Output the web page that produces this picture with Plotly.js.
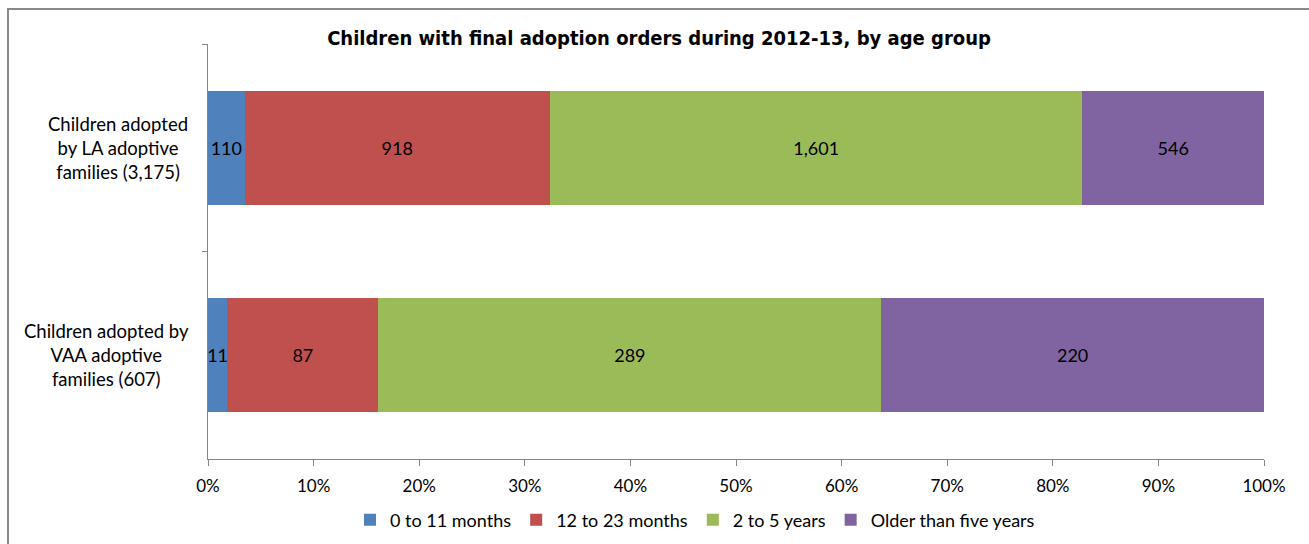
<!DOCTYPE html>
<html>
<head>
<meta charset="utf-8">
<script src="https://cdn.plot.ly/plotly-3.0.1.min.js"></script>
<style>html,body{margin:0;padding:0;background:#fff;}#chart{width:1309px;height:544px;}</style>
</head>
<body>
<div id="chart"></div>
<script>
const categories = ["LA", "VAA"];
const categoryLabels = ["Children adopted<br>by LA adoptive<br>families (3,175)", "Children adopted by<br>VAA adoptive<br>families (607)"];
const seriesNames = ["0 to 11 months", "12 to 23 months", "2 to 5 years", "Older than five years"];
const months0to11 = [110, 11];
const months12to23 = [918, 87];
const years2to5 = [1601, 289];
const olderThanFive = [546, 220];
const colors = ["#4F81BD", "#C0504D", "#9BBB59", "#8064A2"];
const chartTitle = "Children with final adoption orders during 2012-13, by age group";

const seriesValues = [months0to11, months12to23, years2to5, olderThanFive];
const fmt = v => v.toLocaleString("en-GB");
const FONT = "Lato, 'Liberation Sans', sans-serif";

const W = 1309, H = 544;
const mL = 208, mR = 45, mT = 44, mB = 85;
const pw = W - mL - mR, ph = H - mT - mB;
const px = x => (x - mL) / pw;
const py = y => (H - mB - y) / ph;

const traces = seriesValues.map((vals, i) => ({
  type: "bar",
  orientation: "h",
  name: seriesNames[i],
  y: categories,
  x: vals,
  text: vals.map(fmt),
  textposition: "inside",
  insidetextanchor: "middle",
  textangle: 0,
  constraintext: "none",
  textfont: {family: FONT, size: 18, color: "#000"},
  marker: {color: colors[i], line: {width: 0}},
  hoverinfo: "skip"
}));

const labelX = [118, 106];
const annotations = categories.map((c, i) => ({
  xref: "paper", yref: "y",
  x: px(labelX[i]), y: c,
  text: categoryLabels[i],
  showarrow: false,
  align: "center",
  xanchor: "center", yanchor: "middle",
  font: {family: FONT, size: 18.5, color: "#000"}
}));

const layout = {
  width: W, height: H,
  margin: {l: mL, r: mR, t: mT, b: mB},
  paper_bgcolor: "#fff", plot_bgcolor: "#fff",
  barmode: "stack",
  barnorm: "percent",
  bargap: 0.45,
  title: {
    text: "<b>" + chartTitle + "</b>",
    xref: "container", x: 659 / W, xanchor: "center",
    yref: "container", y: 1 - 38 / H, yanchor: "middle",
    font: {family: "'DejaVu Sans Condensed', 'Liberation Sans', sans-serif", size: 20, color: "#000"}
  },
  xaxis: {
    range: [0, 100],
    dtick: 10, tick0: 0,
    ticksuffix: "%",
    showgrid: false, zeroline: false,
    showline: true, linecolor: "#868686", linewidth: 1,
    ticks: "outside", ticklen: 6, tickcolor: "#868686",
    ticklabelstandoff: 6,
    tickfont: {family: FONT, size: 17, color: "#000"},
    fixedrange: true
  },
  yaxis: {
    type: "category",
    autorange: "reversed",
    showticklabels: false,
    showgrid: false, zeroline: false,
    showline: true, linecolor: "#868686", linewidth: 1,
    ticks: "outside", ticklen: 5, tickcolor: "#868686",
    tickson: "boundaries",
    fixedrange: true
  },
  legend: {
    orientation: "h",
    xref: "container", x: 695 / W, xanchor: "center",
    yref: "container", y: 1 - 520 / H, yanchor: "middle",
    font: {family: FONT, size: 18, color: "#000"},
    itemwidth: 30,
    tracegroupgap: 0,
    traceorder: "normal"
  },
  annotations: annotations,
  shapes: [{
    type: "rect", xref: "paper", yref: "paper",
    x0: px(8), x1: px(1340), y0: py(580), y1: py(9),
    line: {color: "#898989", width: 2}, fillcolor: "rgba(0,0,0,0)", layer: "below"
  }],
  showlegend: true
};

Plotly.newPlot("chart", traces, layout, {displayModeBar: false, staticPlot: true});
</script>
</body>
</html>
